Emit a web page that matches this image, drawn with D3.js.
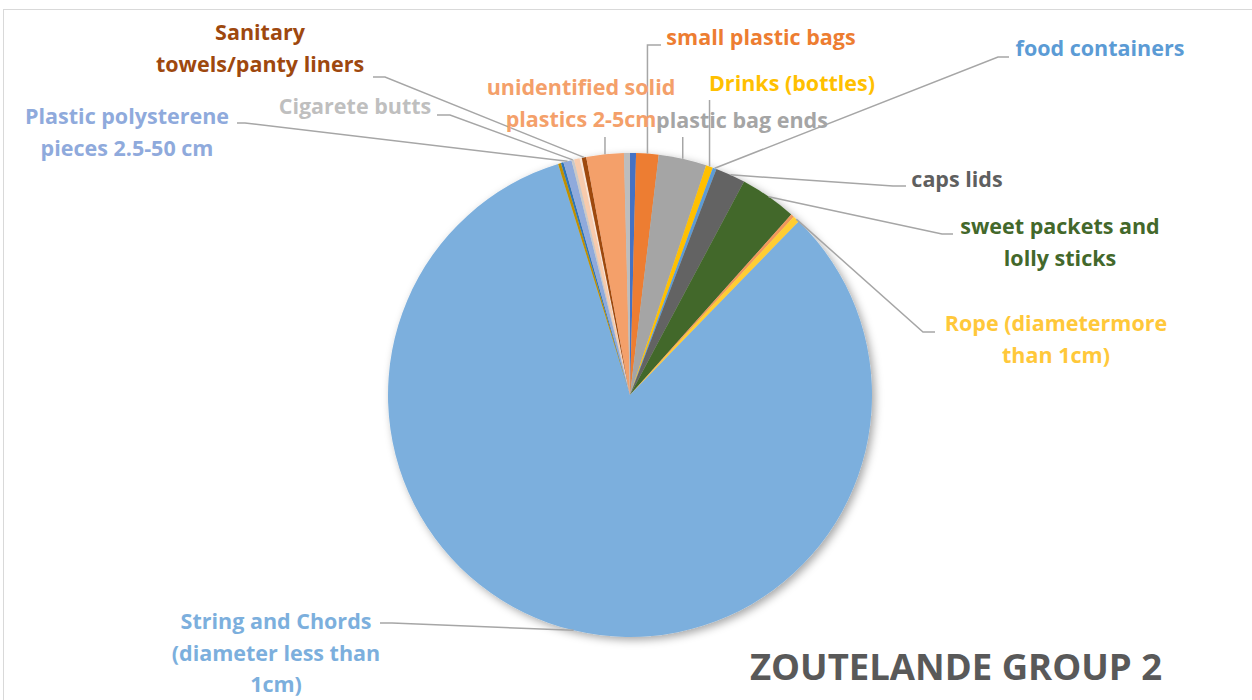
<!DOCTYPE html>
<html><head><meta charset="utf-8">
<script src="https://cdn.jsdelivr.net/npm/d3@7"></script>
<style>html,body{margin:0;padding:0;background:#fff;}svg{display:block;}</style>
</head><body>
<svg id="chart" width="1252" height="700"></svg>
<script>
// ---- data (clockwise from 12 o'clock), values in % of items ----
const categories = [
  "unlabelled A",
  "small plastic bags",
  "plastic bag ends",
  "Drinks (bottles)",
  "food containers",
  "caps lids",
  "sweet packets and lolly sticks",
  "unlabelled B",
  "Rope (diametermore than 1cm)",
  "String and Chords (diameter less than 1cm)",
  "unlabelled C",
  "unlabelled D",
  "Plastic polysterene pieces 2.5-50 cm",
  "Cigarete butts",
  "unlabelled E",
  "unlabelled F",
  "Sanitary towels/panty liners",
  "unidentified solid plastics 2-5cm",
  "unlabelled G"
];
const values = [0.4, 1.5, 3.2, 0.47, 0.25, 2.0, 3.8, 0.22, 0.45, 83.0, 0.2, 0.17, 0.55, 0.17, 0.38, 0.14, 0.3, 2.5, 0.4];
const shownLabels = [false, true, true, true, true, true, true, false, true, true, false, false, true, true, false, false, true, true, false];
const title = "ZOUTELANDE GROUP 2";

// ---- styles ----
const sliceColors = ["#4472C4","#ED7D31","#A5A5A5","#FFC000","#5B9BD5","#636363","#43682B","#F1975A","#FFCD33","#7CAFDD",
                     "#BF9000","#2E75B6","#8FAADC","#C9C9C9","#F8CBAD","#FBE5D6","#9E480E","#F4A06A","#BDBDBD"];
const labelColors = {"Rope (diametermore than 1cm)":"#FFC83A","caps lids":"#5F5F5F","Cigarete butts":"#BFBFBF"};

// label layout: centre x, first baseline y, words per line, leader points near the label (null x = slice rim x)
const labelLayout = {
  "small plastic bags": {x:761, y:45, wrap:[3], lead:[[null,45],[661,45]]},
  "Drinks (bottles)": {x:792, y:91, wrap:[2], lead:[[null,100]]},
  "plastic bag ends": {x:742, y:128, wrap:[3], lead:[[null,137]]},
  "unidentified solid plastics 2-5cm": {x:581, y:95, wrap:[2,2], lead:[[null,137]]},
  "food containers": {x:1100, y:56, wrap:[2], lead:[[998,57],[1009,57]]},
  "caps lids": {x:957, y:187, wrap:[2], lead:[[893,186],[906,186]]},
  "sweet packets and lolly sticks": {x:1060, y:234, wrap:[3,2], lead:[[942,234],[953,234]]},
  "Rope (diametermore than 1cm)": {x:1056, y:331, wrap:[2,2], lead:[[923,332],[935,332]]},
  "String and Chords (diameter less than 1cm)": {x:276, y:629, wrap:[3,3,1], lead:[[392,623],[380,623]]},
  "Plastic polysterene pieces 2.5-50 cm": {x:127, y:124, wrap:[2,3], lead:[[245,123],[237,123]]},
  "Cigarete butts": {x:355, y:114, wrap:[2], lead:[[450,115],[437,115]]},
  "Sanitary towels/panty liners": {x:260, y:40, wrap:[1,2], lead:[[385,77],[373,77]]}
};

const svg = d3.select("#chart");
const cx = 630, cy = 395, R = 242;
const font = "'Open Sans', sans-serif";

// chart area border
svg.append("rect").attr("x",3.5).attr("y",9.5).attr("width",1300).attr("height",720)
  .attr("fill","#fff").attr("stroke","#D9D9D9").attr("stroke-width",1);

const defs = svg.append("defs");
const f = defs.append("filter").attr("id","shadow").attr("x","-20%").attr("y","-20%").attr("width","140%").attr("height","140%");
f.append("feDropShadow").attr("dx",3).attr("dy",3).attr("stdDeviation",4).attr("flood-color","#000").attr("flood-opacity",0.35);

const data = categories.map((c,i)=>({name:c, value:values[i], color:sliceColors[i], show:shownLabels[i]}));
const pie = d3.pie().sort(null).value(d=>d.value);
const arcs = pie(data);
const arc = d3.arc().innerRadius(0).outerRadius(R);

const g = svg.append("g").attr("transform",`translate(${cx},${cy})`);
g.append("g").attr("filter","url(#shadow)")
  .selectAll("path").data(arcs).join("path")
  .attr("d",arc).attr("fill",d=>d.data.color);

// leader lines + labels
const labelled = arcs.filter(d=>d.data.show);
labelled.forEach(d=>{
  const L = labelLayout[d.data.name];
  const mid = (d.startAngle+d.endAngle)/2;
  const rx = cx + R*Math.sin(mid), ry = cy - R*Math.cos(mid);
  const pts = [[rx,ry]].concat(L.lead.map(p=>[p[0]===null?rx:p[0], p[1]]));
  svg.append("path").attr("d",d3.line()(pts)).attr("fill","none")
    .attr("stroke","#A6A6A6").attr("stroke-width",1.5);
  const words = d.data.name.split(" ");
  const lines = []; let k=0;
  L.wrap.forEach(n=>{lines.push(words.slice(k,k+n).join(" ")); k+=n;});
  const t = svg.append("text").attr("text-anchor","middle")
    .attr("font-family",font).attr("font-weight","bold").attr("font-size",21.5)
    .attr("fill", labelColors[d.data.name] || d.data.color);
  lines.forEach((ln,i)=>t.append("tspan").attr("x",L.x).attr("y",L.y+i*31.5).text(ln));
});

svg.append("text").attr("x",956).attr("y",680).attr("text-anchor","middle")
  .attr("font-family",font).attr("font-weight","bold").attr("font-size",36.5)
  .attr("fill","#595959").text(title);
</script>
</body></html>
